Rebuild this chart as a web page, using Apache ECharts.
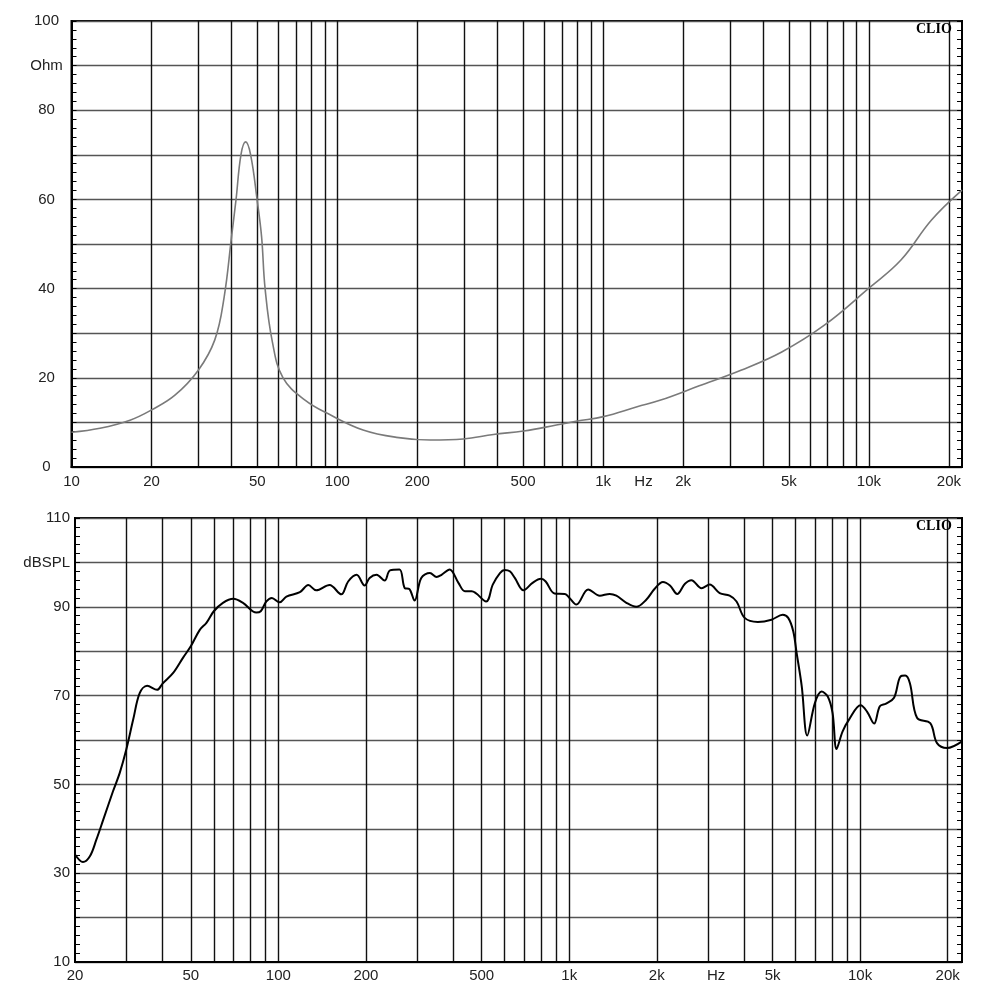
<!DOCTYPE html>
<html><head><meta charset="utf-8">
<script src="https://cdn.jsdelivr.net/npm/echarts@6/dist/echarts.min.js"></script>
<style>html,body{margin:0;padding:0;background:#fff}#c{width:1000px;height:1000px}</style>
</head><body><div id="c"></div>
<script>
// ---- Impedance (top chart) ----
const impFreq = [10, 12.8, 16.6, 20, 24.5, 30, 34.6, 37.5, 40, 41.6, 43.4, 45.2, 47.2, 49.9, 51.9, 53.5, 57, 62.5, 75.6, 94, 125, 167, 224, 298, 387, 502, 667, 799, 1003, 1343, 1647, 2300, 3300, 4700, 6800, 10000, 13200, 17200, 22400];
const impOhm  = [7.8, 8.7, 10.5, 12.8, 16.1, 21.7, 28.5, 38, 51.6, 60, 70, 72.9, 70, 60, 51.6, 40, 28, 20, 15, 11.7, 8.3, 6.65, 6.05, 6.28, 7.3, 8.07, 9.4, 10.3, 11.3, 13.5, 15, 18.2, 21.7, 25.8, 31.8, 40.1, 46.4, 55.4, 62.1];

// ---- SPL (bottom chart) ----
const splFreq = [20, 21.3, 22.5, 23.7, 25.0, 27.0, 28.5, 30, 31.7, 33.4, 35.4, 38.3, 40, 43.5, 47, 50, 53.7, 56.6, 60, 64.5, 70, 75.6, 84, 87, 91, 95, 101, 106.6, 118.6, 126.8, 135, 150, 164.6, 173.8, 185.8, 198, 206, 217.6, 232, 242, 261, 272, 282, 294, 310, 332, 350, 364, 388, 416, 438, 462, 518, 546, 578, 600, 625, 650, 696, 748, 800, 830, 890, 966, 1002, 1058, 1162, 1274, 1378, 1452, 1572, 1700, 1840, 1964, 2100, 2220, 2350, 2500, 2630, 2850, 3040, 3290, 3560, 3760, 4010, 4450, 4960, 5420, 5660, 5890, 6050, 6300, 6580, 6990, 7370, 7740, 8040, 8300, 8700, 9160, 10040, 10560, 11170, 11690, 12280, 13080, 13760, 14290, 14830, 15690, 17420, 18380, 19900, 22400];
const splDb   = [34.2, 32.5, 33.8, 37.6, 42.0, 48.4, 52.6, 57.8, 64.6, 70.6, 72.2, 71.3, 72.7, 75.1, 78.5, 81.1, 84.8, 86.4, 89.0, 90.9, 91.8, 90.9, 88.7, 89.0, 91.2, 92.0, 91.0, 92.3, 93.3, 94.9, 93.7, 94.9, 92.8, 95.7, 97.2, 94.8, 96.5, 97.2, 95.9, 98.2, 98.4, 94.2, 94.0, 91.4, 96.5, 97.6, 96.7, 97.2, 98.4, 95.4, 93.5, 93.5, 91.2, 95.0, 97.6, 98.3, 98.0, 96.5, 93.7, 95.4, 96.3, 95.7, 93.0, 92.9, 92.0, 90.5, 93.9, 92.5, 92.9, 92.5, 90.9, 90.0, 91.6, 94.0, 95.6, 94.8, 92.9, 95.2, 96.0, 94.2, 95.0, 93.1, 92.5, 91.2, 87.5, 86.6, 87.1, 88.2, 87.5, 84.5, 79.6, 72.1, 61.0, 68.3, 70.9, 69.8, 66.1, 58.0, 61.9, 64.6, 67.8, 66.4, 63.7, 67.6, 68.2, 69.5, 74.3, 74.5, 72.8, 65.0, 63.8, 59.3, 58.2, 59.7];

// ---- tick labels ----
const topXLabelFreqs = [10, 20, 50, 100, 200, 500, 1000, 1419, 2000, 5000, 10000, 20000];
const topXLabelTexts = ['10', '20', '50', '100', '200', '500', '1k', 'Hz', '2k', '5k', '10k', '20k'];
const botXLabelFreqs = [20, 50, 100, 200, 500, 1000, 2000, 3200, 5000, 10000, 20000];
const botXLabelTexts = ['20', '50', '100', '200', '500', '1k', '2k', 'Hz', '5k', '10k', '20k'];
const topYLabelVals  = [0, 20, 40, 60, 80, 90, 100];
const topYLabelTexts = ['0', '20', '40', '60', '80', 'Ohm', '100'];
const botYLabelVals  = [10, 30, 50, 70, 90, 100, 110];
const botYLabelTexts = ['10', '30', '50', '70', '90', 'dBSPL', '110'];
const gridDecades = [10, 100, 1000, 10000];
const gridMults = [1, 2, 3, 4, 5, 6, 7, 8, 9];
const FMAX = 22400;

const lg = Math.log10;
function gridFreqs(fmin) {
  const out = [];
  gridDecades.forEach(d => gridMults.forEach(m => { const f = d * m; if (f > fmin && f <= FMAX) out.push(f); }));
  return out;
}
function nearestText(v, vals, texts) {
  let bi = 0, bd = Infinity;
  vals.forEach((x, i) => { const d = Math.abs(x - v); if (d < bd) { bd = d; bi = i; } });
  return texts[bi];
}
const FONT = 'Liberation Sans, Arial, sans-serif';
const FS = 15;

function xAxis(gi, fmin, lf, lt, margin) {
  const lv = lf.map(lg);
  return {
    type: 'value', gridIndex: gi, min: lg(fmin), max: lg(FMAX),
    axisLine: { show: true, lineStyle: { color: '#000', width: 2 } },
    axisTick: { show: false, customValues: gridFreqs(fmin).map(lg) },
    splitLine: { show: true, lineStyle: { color: '#111', width: 1.4 } },
    axisLabel: { customValues: lv, formatter: v => nearestText(v, lv, lt), color: '#222', fontSize: FS, fontFamily: FONT, margin: margin }
  };
}
function yAxisL(gi, min, max, lv, lt, labelCfg) {
  return {
    type: 'value', gridIndex: gi, min: min, max: max, interval: 10, position: 'left',
    axisLine: { show: true, lineStyle: { color: '#000', width: 2 } },
    axisTick: { show: true, inside: true, length: 5, lineStyle: { color: '#000', width: 1 } },
    minorTick: { show: true, splitNumber: 5, length: 5, lineStyle: { color: '#000', width: 1 } },
    splitLine: { show: true, lineStyle: { color: '#555', width: 1.3 } },
    axisLabel: Object.assign({ customValues: lv, formatter: v => nearestText(v, lv, lt), color: '#222', fontSize: FS, fontFamily: FONT }, labelCfg)
  };
}
function yAxisR(gi, min, max) {
  return {
    type: 'value', gridIndex: gi, min: min, max: max, interval: 10, position: 'right',
    axisLine: { show: true, lineStyle: { color: '#000', width: 2 } },
    axisTick: { show: true, inside: true, length: 5, lineStyle: { color: '#000', width: 1 } },
    minorTick: { show: true, splitNumber: 5, length: 5, lineStyle: { color: '#000', width: 1 } },
    splitLine: { show: false },
    axisLabel: { show: false }
  };
}

const chart = echarts.init(document.getElementById('c'), null, { renderer: 'canvas' });
chart.setOption({
  animation: false,
  backgroundColor: '#fff',
  grid: [
    { left: 71.5, top: 21, right: 38, height: 446, show: true, borderColor: '#000', borderWidth: 2 },
    { left: 75, top: 518, right: 38, height: 444, show: true, borderColor: '#000', borderWidth: 2 }
  ],
  xAxis: [
    xAxis(0, 10, topXLabelFreqs, topXLabelTexts, 7),
    xAxis(1, 20, botXLabelFreqs, botXLabelTexts, 6)
  ],
  yAxis: [
    yAxisL(0, 0, 100, topYLabelVals, topYLabelTexts, { align: 'center', margin: 25 }),
    yAxisR(0, 0, 100),
    yAxisL(1, 10, 110, botYLabelVals, botYLabelTexts, { margin: 5 }),
    yAxisR(1, 10, 110)
  ],
  series: [
    { type: 'line', xAxisIndex: 0, yAxisIndex: 0, showSymbol: false, smooth: 0.4,
      lineStyle: { color: '#7a7a7a', width: 1.6 }, data: impFreq.map((f, i) => [lg(f), impOhm[i]]) },
    { type: 'line', xAxisIndex: 1, yAxisIndex: 2, showSymbol: false, smooth: 0.35,
      lineStyle: { color: '#000', width: 2 }, data: splFreq.map((f, i) => [lg(f), splDb[i]]) }
  ],
  graphic: [
    { type: 'text', z: 100, left: 916, top: 22, style: { text: 'CLIO', font: 'bold 14px "Liberation Serif", serif', fill: '#000' } },
    { type: 'text', z: 100, left: 916, top: 519, style: { text: 'CLIO', font: 'bold 14px "Liberation Serif", serif', fill: '#000' } }
  ]
});
</script></body></html>
